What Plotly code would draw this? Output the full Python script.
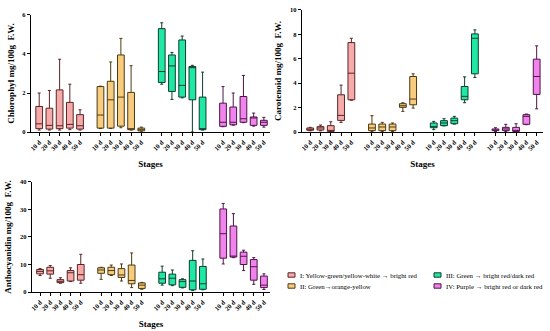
import plotly.graph_objects as go

stages = ["10 d", "20 d", "30 d", "40 d", "50 d"]
groups = ["I: Yellow-green/yellow-white \u2192 bright red",
          "II: Green\u2192orange-yellow",
          "III: Green \u2192 bright red/dark red",
          "IV: Purple \u2192 bright red or dark red"]
fill_colors = ["#F7AAAA", "#F8CC7E", "#1EE8A4", "#F184EC"]
line_colors = ["#5A2424", "#4D3A12", "#0F3D2C", "#4E1549"]

# Chlorophyl (mg/100g F.W.), 4 groups x 5 stages
chl_low  = [0.10, 0.10, 0.10, 0.12, 0.10,  0.18, 0.18, 0.22, 0.10, 0.04,  2.45, 1.67, 1.75, 0.00, 0.10,  0.27, 0.35, 0.48, 0.30, 0.25]
chl_q1   = [0.17, 0.15, 0.17, 0.20, 0.15,  0.20, 0.20, 0.30, 0.12, 0.06,  2.54, 2.08, 1.79, 1.65, 0.12,  0.29, 0.37, 0.50, 0.34, 0.34]
chl_med  = [0.42, 0.34, 0.32, 0.39, 0.32,  0.87, 1.65, 1.79, 0.15, 0.12,  3.10, 3.39, 2.39, 3.30, 0.15,  0.50, 0.50, 0.68, 0.72, 0.50]
chl_q3   = [1.31, 1.22, 2.16, 1.52, 0.89,  2.33, 2.60, 3.95, 2.03, 0.20,  5.30, 3.95, 4.72, 3.36, 1.79,  1.48, 1.28, 1.82, 0.77, 0.60]
chl_high = [2.00, 2.13, 3.73, 2.45, 1.14,  2.35, 3.59, 4.80, 3.40, 0.25,  5.60, 4.08, 4.92, 3.42, 3.07,  2.33, 2.00, 2.90, 0.97, 0.75]

# Carotenoid (mg/100g F.W.)
car_low  = [0.10, 0.10, 0.02, 0.79, 2.60,  0.05, 0.05, 0.05, 1.69, 1.96,  0.19, 0.50, 0.65, 2.40, 4.47,  0.05, 0.05, 0.02, 0.60, 1.90]
car_q1   = [0.14, 0.16, 0.05, 0.95, 2.64,  0.11, 0.11, 0.11, 2.02, 2.23,  0.35, 0.52, 0.68, 2.64, 4.77,  0.11, 0.11, 0.05, 0.63, 3.08]
car_med  = [0.22, 0.33, 0.11, 1.36, 4.82,  0.33, 0.41, 0.41, 2.15, 2.70,  0.44, 0.74, 0.93, 2.92, 7.68,  0.16, 0.25, 0.11, 1.28, 4.55]
car_q3   = [0.33, 0.44, 0.52, 3.05, 7.33,  0.65, 0.65, 0.65, 2.32, 4.55,  0.74, 0.93, 1.14, 3.73, 8.04,  0.25, 0.38, 0.38, 1.42, 5.97]
car_high = [0.38, 0.57, 0.84, 3.84, 7.68,  1.34, 0.79, 0.74, 2.40, 4.77,  0.87, 1.09, 1.28, 4.52, 8.37,  0.35, 0.63, 0.68, 1.47, 7.06]

# Anthocyanidin (mg/100g F.W.)
ant_low  = [6.0, 5.0, 3.2, 3.8, 3.2,   4.6, 6.0, 4.0, 1.6, 1.0,   2.5, 2.3, 1.5, 0.5, 0.8,   10.2, 12.5, 7.8, 2.8, 0.9]
ant_q1   = [6.6, 6.5, 3.4, 4.0, 4.3,   6.8, 6.3, 5.3, 3.0, 1.3,   3.2, 2.6, 1.7, 0.8, 1.0,   12.3, 12.7, 10.0, 4.3, 1.6]
ant_med  = [7.5, 7.7, 3.9, 7.0, 6.3,   8.0, 7.8, 6.2, 4.2, 2.5,   4.8, 5.0, 3.8, 4.0, 3.0,   21.2, 13.0, 13.0, 9.2, 2.5]
ant_q3   = [8.2, 9.0, 4.5, 7.8, 10.0,  8.8, 9.0, 8.5, 9.8, 3.3,   7.2, 6.5, 4.5, 11.5, 9.3,  30.2, 24.0, 14.5, 11.8, 5.8]
ant_high = [8.5, 9.6, 5.2, 8.8, 13.7,  9.0, 9.8, 10.2, 14.2, 3.5,  9.4, 8.0, 4.8, 15.0, 12.0, 32.2, 28.5, 15.2, 12.5, 6.6]

n_st = len(stages)
gap = 1  # empty slot between groups
positions = [g * (n_st + gap) + s for g in range(len(groups)) for s in range(n_st)]
ticktext = stages * len(groups)

SERIF = "Liberation Serif"

panels = [
    dict(x="x", y="y", low=chl_low, q1=chl_q1, med=chl_med, q3=chl_q3, high=chl_high),
    dict(x="x2", y="y2", low=car_low, q1=car_q1, med=car_med, q3=car_q3, high=car_high),
    dict(x="x3", y="y3", low=ant_low, q1=ant_q1, med=ant_med, q3=ant_q3, high=ant_high),
]

fig = go.Figure()
for p in panels:
    for g in range(len(groups)):
        sl = slice(g * n_st, (g + 1) * n_st)
        fig.add_trace(go.Box(
            x=positions[sl],
            q1=p["q1"][sl], median=p["med"][sl], q3=p["q3"][sl],
            lowerfence=p["low"][sl], upperfence=p["high"][sl],
            xaxis=p["x"], yaxis=p["y"],
            width=0.66, whiskerwidth=0.45,
            fillcolor=fill_colors[g],
            line=dict(color=line_colors[g], width=1),
            name=groups[g], showlegend=False, hoverinfo="skip",
        ))

def xax(domain, anchor):
    return dict(domain=domain, anchor=anchor, range=[-0.8, 22.6],
                tickmode="array", tickvals=positions, ticktext=ticktext,
                tickangle=-45, ticks="outside", ticklen=3, tickwidth=1,
                tickcolor="black", showline=True, linecolor="black", linewidth=1.3,
                showgrid=False, zeroline=False, automargin=False,
                tickfont=dict(family=SERIF, size=6.5, color="black", weight="bold"),
                title=dict(text="<b>Stages</b>", standoff=9,
                           font=dict(family=SERIF, size=9, color="black")))

def yax(domain, anchor, rng, dtick, title):
    return dict(domain=domain, anchor=anchor, range=rng, dtick=dtick,
                ticks="outside", ticklen=3, tickwidth=1, tickcolor="black",
                showline=True, linecolor="black", linewidth=1.3,
                showgrid=False, zeroline=False, automargin=False,
                tickfont=dict(family=SERIF, size=6.5, color="black", weight="bold"),
                title=dict(text="<b>" + title + "</b>", standoff=6,
                           font=dict(family=SERIF, size=9, color="black")))

fig.update_layout(
    width=550, height=331,
    margin=dict(l=0, r=0, t=0, b=0),
    paper_bgcolor="white", plot_bgcolor="white",
    showlegend=False,
    xaxis=xax([0.0564, 0.4909], "y"),
    yaxis=yax([0.6012, 0.9547], "x", [0, 6], 2, "Chlorophyl mg/100g  F.W."),
    xaxis2=xax([0.549, 0.987], "y2"),
    yaxis2=yax([0.6012, 0.9698], "x2", [0, 10], 2, "Carotenoid mg/100g  F.W."),
    xaxis3=xax([0.058, 0.491], "y3"),
    yaxis3=yax([0.1178, 0.4502], "x3", [0, 40], 10, "Anthocyanidin mg/100g  F.W."),
)

# legend (two columns)
leg_x = [288, 288, 434, 434]
leg_y = [275, 286, 275, 286]
for g in range(len(groups)):
    x0 = leg_x[g] / 550
    yc = 1 - leg_y[g] / 331
    fig.add_shape(type="rect", xref="paper", yref="paper",
                  x0=x0, x1=x0 + 7 / 550, y0=yc - 2.2 / 331, y1=yc + 2.2 / 331,
                  fillcolor=fill_colors[g], line=dict(color=line_colors[g], width=1))
    fig.add_annotation(xref="paper", yref="paper", x=x0 + 10 / 550, y=yc,
                       xanchor="left", yanchor="middle", showarrow=False,
                       text=groups[g],
                       font=dict(family=SERIF, size=6.8, color="black"))

fig.write_html("out.html", config={"displayModeBar": False},
               post_script="document.body.style.margin='0px';document.body.style.overflow='hidden';")
